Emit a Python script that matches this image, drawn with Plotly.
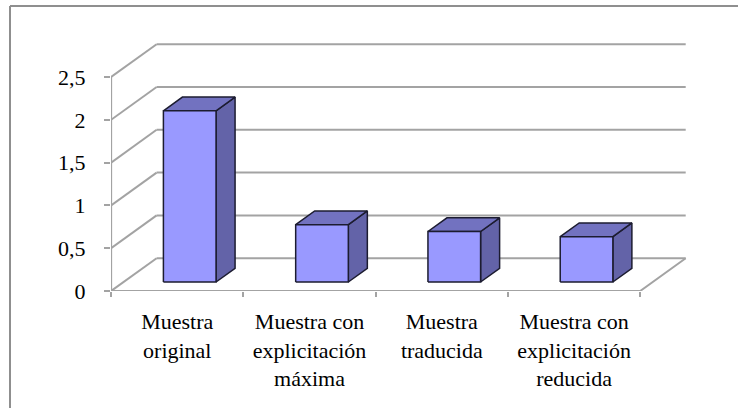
import plotly.graph_objects as go

# Chart data
categories = [
    "Muestra<br>original",
    "Muestra con<br>explicitación<br>máxima",
    "Muestra<br>traducida",
    "Muestra con<br>explicitación<br>reducida",
]
values = [2.0, 0.67, 0.59, 0.53]
y_ticks = [0, 0.5, 1, 1.5, 2, 2.5]
y_tick_labels = ["0", "0,5", "1", "1,5", "2", "2,5"]

# Page / plot-area geometry (pixels)
W, H = 738, 408
ML, MR, MT, MB = 111, 48, 30, 117
PW, PH = W - ML - MR, H - MT - MB
PX_PER_CAT = 132.3      # horizontal pixels per category slot
PX_PER_UNIT = 85.6      # vertical pixels per value unit
DEPTH_DX, DEPTH_DY = 45.5, 32.8   # oblique offset of the back wall (px)

OX = DEPTH_DX / PX_PER_CAT       # depth offset in x data units
OY = DEPTH_DY / PX_PER_UNIT      # depth offset in y data units
N = len(categories)
YMAX = y_ticks[-1]

# Bar box proportions
HALF_W = 0.199
D0, D1 = 0.274, 0.692

FRONT = "#9999FF"
TOP = "#7272C0"
SIDE = "#6363A8"
EDGE = "#1c1c30"
GRID = "#a3a3a3"


def proj(x, y, d):
    return x + d * OX, y + d * OY


def line_trace(pts, color=GRID, width=2):
    xs = [p[0] for p in pts]
    ys = [p[1] for p in pts]
    return go.Scatter(x=xs, y=ys, mode="lines", line=dict(color=color, width=width),
                      hoverinfo="skip", showlegend=False)


def face_trace(pts, fill):
    pts = pts + [pts[0]]
    return go.Scatter(x=[p[0] for p in pts], y=[p[1] for p in pts], mode="lines",
                      fill="toself", fillcolor=fill,
                      line=dict(color=EDGE, width=1.5),
                      hoverinfo="skip", showlegend=False)


traces = []

# Back wall gridlines and left wall diagonals
for v in y_ticks:
    traces.append(line_trace([proj(0, v, 1), proj(N, v, 1)]))
    traces.append(line_trace([proj(0, v, 0), proj(0, v, 1)]))

# Floor front and right edges, front value axis
traces.append(line_trace([proj(0, 0, 0), proj(N, 0, 0), proj(N, 0, 1)]))
traces.append(line_trace([proj(0, 0, 0), proj(0, YMAX, 0)]))

# 3-D bars
for i, v in enumerate(values):
    x0, x1 = i + 0.5 - HALF_W, i + 0.5 + HALF_W
    traces.append(face_trace([proj(x1, 0, D0), proj(x1, 0, D1), proj(x1, v, D1), proj(x1, v, D0)], SIDE))
    traces.append(face_trace([proj(x0, v, D0), proj(x1, v, D0), proj(x1, v, D1), proj(x0, v, D1)], TOP))
    traces.append(face_trace([proj(x0, 0, D0), proj(x1, 0, D0), proj(x1, v, D0), proj(x0, v, D0)], FRONT))

fig = go.Figure(traces)

font = dict(family="Liberation Serif, Times New Roman, serif", size=22, color="black")


def px_to_paper_x(px):
    return (px - ML) / PW


def px_to_paper_y(py):
    return (H - MB - py) / PH


fig.update_layout(
    template="none",
    width=W, height=H,
    margin=dict(l=ML, r=MR, t=MT, b=MB, pad=0),
    paper_bgcolor="white", plot_bgcolor="rgba(0,0,0,0)",
    font=font,
    showlegend=False,
    xaxis=dict(
        range=[-0.001, PW / PX_PER_CAT],
        tickmode="array",
        tickvals=[i + 0.5 for i in range(N)],
        ticktext=categories,
        ticks="",
        showgrid=False, zeroline=False, showline=False,
        automargin=False,
        ticklabelstandoff=15,
        tickfont=font,
        minor=dict(tickmode="array", tickvals=list(range(N + 1)), ticks="outside",
                   ticklen=5, tickwidth=2, tickcolor=GRID, showgrid=False),
        fixedrange=True,
    ),
    yaxis=dict(
        range=[0, PH / PX_PER_UNIT],
        tickmode="array",
        tickvals=y_ticks,
        ticktext=y_tick_labels,
        ticks="outside", ticklen=6, tickwidth=2, tickcolor=GRID,
        showgrid=False, zeroline=False, showline=False,
        automargin=False,
        ticklabelstandoff=14,
        tickfont=font,
        fixedrange=True,
    ),
    shapes=[
        dict(type="line", xref="paper", yref="paper",
             x0=px_to_paper_x(10), x1=px_to_paper_x(10),
             y0=px_to_paper_y(6), y1=px_to_paper_y(H + 5),
             line=dict(color="#8f8f8f", width=2)),
        dict(type="line", xref="paper", yref="paper",
             x0=px_to_paper_x(10), x1=px_to_paper_x(W + 5),
             y0=px_to_paper_y(6), y1=px_to_paper_y(6),
             line=dict(color="#8f8f8f", width=2)),
    ],
)

fig.write_html("out.html")
